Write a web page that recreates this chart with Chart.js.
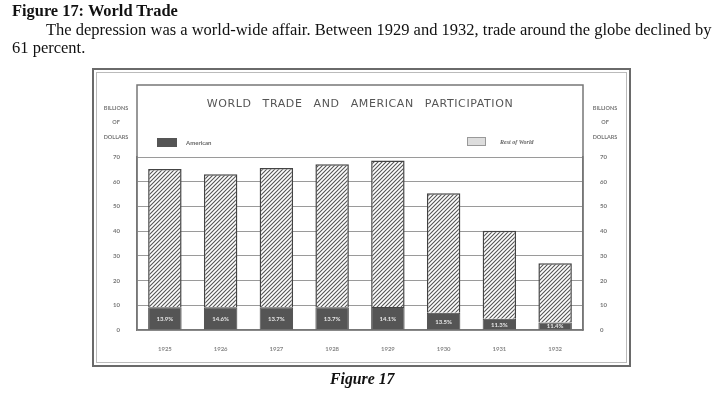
<!DOCTYPE html>
<html>
<head>
<meta charset="utf-8">
<script src="https://cdn.jsdelivr.net/npm/chart.js@4.4.0/dist/chart.umd.min.js"></script>
<style>
  body { margin: 0; background: #fff; }
  #wrap { position: relative; width: 720px; height: 398px; overflow: hidden; }
  canvas { position: absolute; left: 0; top: 0; }
  .txt { position: absolute; font-family: "Liberation Serif", serif; color: #111; white-space: nowrap; }
  #head { left: 12px; top: 1px; font-size: 16.4px; font-weight: bold; }
  #line1 { left: 46px; top: 20px; font-size: 16.5px; }
  #line2 { left: 12px; top: 38px; font-size: 16.5px; }
  #caption { left: 330px; top: 370px; font-size: 15.8px; font-weight: bold; font-style: italic; }
</style>
</head>
<body>
<div id="wrap">
  <canvas id="tradeChart" width="720" height="398"></canvas>
  <div class="txt" id="head">Figure 17: World Trade</div>
  <div class="txt" id="line1">The depression was a world-wide affair. Between 1929 and 1932, trade around the globe declined by</div>
  <div class="txt" id="line2">61 percent.</div>
  <div class="txt" id="caption">Figure 17</div>
</div>
<script>
const years = ['1925', '1926', '1927', '1928', '1929', '1930', '1931', '1932'];
// total world trade, billions of dollars
const worldTotal = [65.1, 63.0, 65.5, 67.1, 68.6, 55.3, 40.2, 27.0];
// american part of it
const american = [9.2, 9.2, 9.2, 9.2, 9.3, 7.0, 4.6, 3.0];
const shareLabels = ['13.9%', '14.6%', '13.7%', '13.7%', '14.1%', '13.5%', '11.3%', '11.4%'];
const yTicks = [0, 10, 20, 30, 40, 50, 60, 70];

const restOfWorld = worldTotal.map((t, i) => +(t - american[i]).toFixed(1));

const gray = '#777';
const tickFont = { family: 'Lato', size: 6, weight: 'bold' };

function makeHatch() {
    const c = document.createElement('canvas');
    c.width = 4; c.height = 4;
    const g = c.getContext('2d');
    g.fillStyle = '#fff';
    g.fillRect(0, 0, 4, 4);
    g.strokeStyle = '#555';
    g.lineWidth = 1.1;
    g.beginPath();
    g.moveTo(0, 4); g.lineTo(4, 0);
    g.moveTo(-1, 1); g.lineTo(1, -1);
    g.moveTo(3, 5); g.lineTo(5, 3);
    g.stroke();
    return g.createPattern(c, 'repeat');
}

const ctx = document.getElementById('tradeChart').getContext('2d');
const hatch = makeHatch();

/* рамка, заголовок, легенда, подписи */
const decorPlugin = {
    id: 'decor',
    afterDraw(chart) {
        const c = chart.ctx;
        const a = chart.chartArea;
        c.save();

        // outer frame
        c.strokeStyle = '#6a6a6a';
        c.lineWidth = 2;
        c.strokeRect(93, 69, 537, 297);
        c.strokeStyle = '#bbb';
        c.lineWidth = 1;
        c.strokeRect(96.5, 72.5, 530, 290);

        // inner box above the plot
        c.strokeStyle = gray;
        c.lineWidth = 1.5;
        c.beginPath();
        c.moveTo(a.left, a.bottom); c.lineTo(a.left, 85); c.lineTo(a.right, 85); c.lineTo(a.right, a.bottom);
        c.stroke();

        // title
        c.fillStyle = '#555';
        c.font = '11px "DejaVu Sans"';
        c.textAlign = 'center';
        c.textBaseline = 'middle';
        c.letterSpacing = '0.6px';
        c.wordSpacing = '7px';
        c.fillText('WORLD TRADE AND AMERICAN PARTICIPATION', (a.left + a.right) / 2, 104);
        c.letterSpacing = '0px';
        c.wordSpacing = '0px';

        // axis headers
        c.font = 'bold 5.5px Lato';
        c.fillStyle = gray;
        ['BILLIONS', 'OF', 'DOLLARS'].forEach((w, i) => {
            c.fillText(w, 116, 108 + i * 14.5);
            c.fillText(w, 605, 108 + i * 14.5);
        });

        // legend
        const ds = chart.data.datasets;
        c.fillStyle = ds[0].backgroundColor;
        c.fillRect(157, 138, 20, 9);
        c.fillStyle = '#ddd';
        c.fillRect(467, 137, 19, 9);
        c.strokeStyle = '#999';
        c.lineWidth = 1;
        c.strokeRect(467.5, 137.5, 18, 8);
        c.fillStyle = '#666';
        c.textAlign = 'left';
        c.font = 'bold 6px Lato';
        c.fillText(ds[0].label, 186, 143);
        c.font = 'bold italic 6px "Liberation Serif"';
        c.fillText(ds[1].label, 500, 142);

        // percent labels on american bars
        const meta = chart.getDatasetMeta(0);
        c.fillStyle = '#e6e6e6';
        c.textAlign = 'center';
        c.font = 'bold 6px Lato';
        meta.data.forEach((bar, i) => {
            c.fillText(shareLabels[i], bar.x, (bar.y + bar.base) / 2 + 0.5);
        });
        c.restore();
    }
};

new Chart(ctx, {
    type: 'bar',
    data: {
        labels: years,
        datasets: [
            {
                label: 'American',
                data: american,
                backgroundColor: '#555',
                borderColor: '#444',
                borderWidth: 1,
                barPercentage: 0.6,
                categoryPercentage: 1
            },
            {
                label: 'Rest of World',
                data: restOfWorld,
                backgroundColor: hatch,
                borderColor: '#444',
                borderWidth: 1.5,
                barPercentage: 0.6,
                categoryPercentage: 1
            }
        ]
    },
    options: {
        responsive: false,
        animation: false,
        devicePixelRatio: 1,
        layout: { padding: { left: 93, right: 90, top: 157, bottom: 32 } },
        plugins: {
            legend: { display: false },
            title: { display: false },
            tooltip: { enabled: false }
        },
        scales: {
            x: {
                stacked: true,
                grid: { display: false, drawTicks: false },
                border: { display: true, color: gray, width: 1.5 },
                ticks: { color: '#888', font: tickFont, padding: 15, maxRotation: 0 },
                afterFit: s => { s.height = 36; }
            },
            y: {
                stacked: true,
                min: 0,
                max: 70,
                grid: { color: '#9a9a9a', lineWidth: 1, drawTicks: false },
                border: { display: true, color: gray, width: 1.5 },
                ticks: {
                    color: gray, font: tickFont, padding: 17,
                    stepSize: 10,
                    callback: v => yTicks.includes(v) ? String(v) : ''
                },
                afterFit: s => { s.width = 44; }
            },
            y2: {
                position: 'right',
                min: 0,
                max: 70,
                grid: { display: false, drawTicks: false },
                border: { display: true, color: gray, width: 1.5 },
                ticks: {
                    color: gray, font: tickFont, padding: 17,
                    stepSize: 10,
                    callback: v => yTicks.includes(v) ? String(v) : ''
                },
                afterFit: s => { s.width = 47; }
            }
        }
    },
    plugins: [decorPlugin]
});
</script>
</body>
</html>
